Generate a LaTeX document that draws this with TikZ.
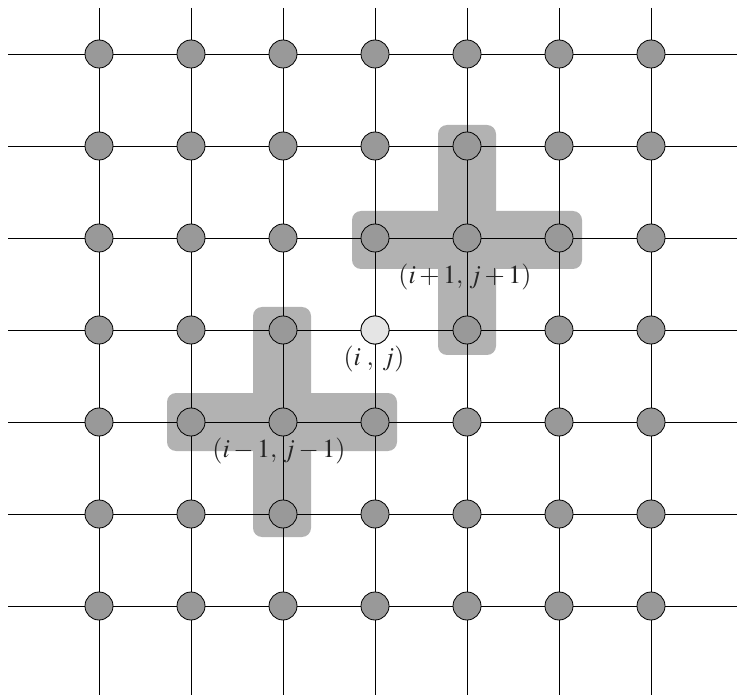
\documentclass[tikz,border=0pt]{standalone}
\usepackage{mathptmx}
\definecolor{sitegray}{gray}{0.6}
\definecolor{plusgray}{gray}{0.7}
\definecolor{focusgray}{gray}{0.9}
\begin{document}
\begin{tikzpicture}[x=1pt,y=-1pt,
  gridline/.style={line width=0.8pt, draw=black},
  site/.style={circle, draw=black, line width=0.8pt, fill=sitegray, minimum size=28pt, inner sep=0pt},
  focussite/.style={site, fill=focusgray},
  stencil/.style={fill=plusgray, rounded corners=9pt},
  lbl/.style={font=\fontsize{26}{30}\selectfont, inner sep=0pt, text=black!85}]
\useasboundingbox (0,0) rectangle (737,695);
% stencils
\fill[stencil] (352,211) rectangle (582,269);
\fill[stencil] (438,125) rectangle (496,355);
\fill[stencil] (167,393) rectangle (397,451);
\fill[stencil] (253,307) rectangle (311,537);
% grid end points
\foreach \k/\v in {0/54,1/146,2/238,3/330,4/422,5/514,6/606}{
  \coordinate (L\k) at (8,\v);
  \coordinate (R\k) at (737,\v);
}
\foreach \k/\u in {0/99,1/191,2/283,3/375,4/467,5/559,6/651}{
  \coordinate (T\k) at (\u,8);
  \coordinate (B\k) at (\u,695);
}
\foreach \k in {0,...,6}{
  \draw[gridline] (L\k) -- (R\k);
  \draw[gridline] (T\k) -- (B\k);
}
% sites
\foreach \c/\u in {0/99,1/191,2/283,3/375,4/467,5/559,6/651}{
  \foreach \r/\v in {0/54,1/146,2/238,3/330,4/422,5/514,6/606}{
    \node[site] (n\c\r) at (\u,\v) {};
  }
}
\node[focussite] (focus) at (375,330) {};
% labels
\node[lbl] (lij) at (374,359) {$(i\;,\;j)$};
\node[lbl] (lpp) at (465,277) {$(i+1,\,j+1)$};
\node[lbl] (lmm) at (279,451) {$(i-1,\,j-1)$};
\end{tikzpicture}
\end{document}
